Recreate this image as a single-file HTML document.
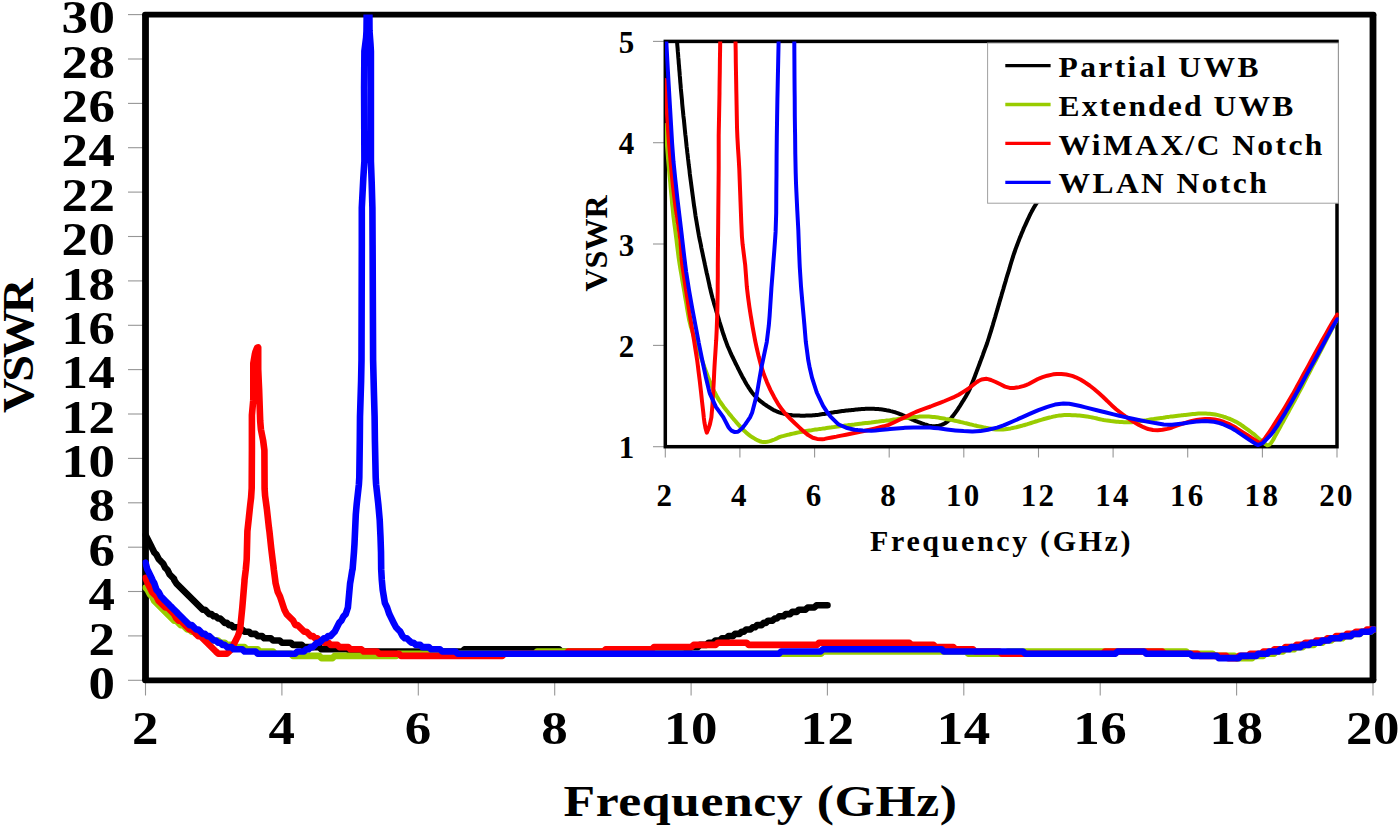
<!DOCTYPE html>
<html><head><meta charset="utf-8"><title>VSWR</title>
<style>html,body{margin:0;padding:0;background:#fff;}svg{display:block;}text{font-family:"Liberation Serif",serif;font-weight:bold;fill:#000;}</style></head><body>
<svg width="1400" height="829" viewBox="0 0 1400 829">
<rect x="0" y="0" width="1400" height="829" fill="#ffffff"/>
<defs><clipPath id="cm"><rect x="142.5" y="14.6" width="1233.5" height="665.7"/></clipPath>
<clipPath id="ci"><rect x="664.9" y="41.4" width="673.8" height="407.3"/></clipPath></defs>
<line x1="128" y1="680.3" x2="143" y2="680.3" stroke="#969696" stroke-width="1.1"/>
<line x1="128" y1="635.9" x2="143" y2="635.9" stroke="#969696" stroke-width="1.1"/>
<line x1="128" y1="591.5" x2="143" y2="591.5" stroke="#969696" stroke-width="1.1"/>
<line x1="128" y1="547.2" x2="143" y2="547.2" stroke="#969696" stroke-width="1.1"/>
<line x1="128" y1="502.8" x2="143" y2="502.8" stroke="#969696" stroke-width="1.1"/>
<line x1="128" y1="458.4" x2="143" y2="458.4" stroke="#969696" stroke-width="1.1"/>
<line x1="128" y1="414.0" x2="143" y2="414.0" stroke="#969696" stroke-width="1.1"/>
<line x1="128" y1="369.6" x2="143" y2="369.6" stroke="#969696" stroke-width="1.1"/>
<line x1="128" y1="325.3" x2="143" y2="325.3" stroke="#969696" stroke-width="1.1"/>
<line x1="128" y1="280.9" x2="143" y2="280.9" stroke="#969696" stroke-width="1.1"/>
<line x1="128" y1="236.5" x2="143" y2="236.5" stroke="#969696" stroke-width="1.1"/>
<line x1="128" y1="192.1" x2="143" y2="192.1" stroke="#969696" stroke-width="1.1"/>
<line x1="128" y1="147.7" x2="143" y2="147.7" stroke="#969696" stroke-width="1.1"/>
<line x1="128" y1="103.4" x2="143" y2="103.4" stroke="#969696" stroke-width="1.1"/>
<line x1="128" y1="59.0" x2="143" y2="59.0" stroke="#969696" stroke-width="1.1"/>
<line x1="128" y1="14.6" x2="143" y2="14.6" stroke="#969696" stroke-width="1.1"/>
<line x1="145.5" y1="682" x2="145.5" y2="695.5" stroke="#969696" stroke-width="1.1"/>
<line x1="281.9" y1="682" x2="281.9" y2="695.5" stroke="#969696" stroke-width="1.1"/>
<line x1="418.3" y1="682" x2="418.3" y2="695.5" stroke="#969696" stroke-width="1.1"/>
<line x1="554.7" y1="682" x2="554.7" y2="695.5" stroke="#969696" stroke-width="1.1"/>
<line x1="691.1" y1="682" x2="691.1" y2="695.5" stroke="#969696" stroke-width="1.1"/>
<line x1="827.4" y1="682" x2="827.4" y2="695.5" stroke="#969696" stroke-width="1.1"/>
<line x1="963.8" y1="682" x2="963.8" y2="695.5" stroke="#969696" stroke-width="1.1"/>
<line x1="1100.2" y1="682" x2="1100.2" y2="695.5" stroke="#969696" stroke-width="1.1"/>
<line x1="1236.6" y1="682" x2="1236.6" y2="695.5" stroke="#969696" stroke-width="1.1"/>
<line x1="1373.0" y1="682" x2="1373.0" y2="695.5" stroke="#969696" stroke-width="1.1"/>
<g stroke="#000">
<line x1="145.0" y1="14.6" x2="1373.5" y2="14.6" stroke-width="5.7" stroke-linecap="round"/>
<line x1="145.0" y1="680.3" x2="1373.5" y2="680.3" stroke-width="5.7" stroke-linecap="round"/>
<line x1="145.5" y1="14.6" x2="145.5" y2="680.3" stroke-width="6.8"/>
<line x1="1373.0" y1="14.6" x2="1373.0" y2="680.3" stroke-width="6.8"/>
</g>
<g clip-path="url(#cm)" fill="none" stroke-linejoin="round" stroke-linecap="round" stroke-width="6.6">
<polyline stroke="#000000" points="145.5,535 147.7,539.3 152.1,548.1 152.3,548.3 154.3,552.5 156.5,554.7 158.7,559.1 159.1,559.4 160.9,561.3 163.1,563.5 165.3,567.9 166.9,569.4 167.5,570.1 169.7,574.5 174.1,578.9 174.2,580 176.3,583.3 202.7,609.7 204.9,609.7 209.3,614.1 211.5,614.1 213.7,616.3 215.9,616.3 218.1,618.5 220.3,618.5 224.7,622.9 226.9,622.9 229.1,625.1 231.3,625.1 233.5,627.3 237.9,627.3 240.1,629.5 242.3,629.5 244.5,631.7 248.9,631.7 251.1,633.9 255.5,633.9 257.7,636.1 262.1,636.1 264.3,638.3 270.9,638.3 273.1,640.5 279.7,640.5 281.9,642.7 290.7,642.7 292.9,644.9 301.7,644.9 303.9,647.1 319.3,647.1 321.5,649.3 347.9,649.3 350.1,651.5 462.3,651.5 464.5,649.3 559.1,649.3 561.3,651.5 605.3,651.5 607.5,653.7 660.3,653.7 662.5,651.5 675.7,651.5 677.9,649.3 688.9,649.3 691.1,647.1 697.7,647.1 699.9,644.9 706.5,644.9 708.7,642.7 713.1,642.7 715.3,640.5 719.7,640.5 721.9,638.3 726.3,638.3 728.5,636.1 732.9,636.1 735.1,633.9 739.5,633.9 741.7,631.7 743.9,631.7 746.1,629.5 750.5,629.5 752.7,627.3 754.9,627.3 757.1,625.1 761.5,625.1 763.7,622.9 765.9,622.9 768.1,620.7 772.5,620.7 774.7,618.5 776.9,618.5 779.1,616.3 783.5,616.3 785.7,614.1 790.1,614.1 792.3,611.9 796.7,611.9 798.9,609.7 805.5,609.7 807.7,607.5 814.3,607.5 816.5,605.3 827.5,605.3"/>
<polyline stroke="#99cc00" points="145.5,587.7 147.7,589.9 149.9,594.3 152.1,596.5 154.3,600.9 174.1,620.7 176.3,620.7 180.7,625.1 182.9,625.1 187.3,629.5 189.5,629.5 191.7,631.7 193.9,631.7 196.1,633.9 200.5,633.9 202.7,636.1 204.9,636.1 207.1,638.3 211.5,638.3 213.7,640.5 218.1,640.5 220.3,642.7 224.7,642.7 226.9,644.9 233.5,644.9 235.7,647.1 244.5,647.1 246.7,649.3 257.7,649.3 259.9,651.5 273.1,651.5 275.3,653.7 290.7,653.7 292.9,655.9 319.3,655.9 321.5,658.1 332.5,658.1 334.7,655.9 396.3,655.9 398.5,653.7 535,653.7 537.1,651.5 680.2,651.5 682.4,653.7 821,653.7 823.2,651.5 966.1,651.5 968.3,653.7 1005.7,653.7 1008,651.5 1186.1,651.5 1188.4,653.7 1212.5,653.7 1214.7,655.9 1234.5,655.9 1236.7,658.1 1252.1,658.1 1254.3,655.9 1263.1,655.9 1265.3,653.7 1274.1,653.7 1276.3,651.5 1282.9,651.5 1285.1,649.3 1293.9,649.3 1296.1,647.1 1302.7,647.1 1304.9,644.9 1313.8,644.9 1315.9,642.7 1322.5,642.7 1324.7,640.5 1331.3,640.5 1333.5,638.3 1342.3,638.3 1344.5,636.1 1351.1,636.1 1353.3,633.9 1359.9,633.9 1362.1,631.7 1370.9,631.7 1373.2,629.5 1373.5,629.5"/>
<polyline stroke="#ff0000" points="145.5,577.8 147.7,583.3 152.1,592.1 156.5,596.5 158.7,600.9 165.3,607.5 167.5,607.5 174.1,614.1 176.4,618.5 178.6,620.7 180.7,620.7 189.5,629.5 191.7,629.5 194,631.7 196.1,633.9 198.3,636.1 200.5,636.1 215.9,651.5 218.2,653.7 226.9,653.7 231.3,649.3 237.9,636.1 240.1,629.5 242.3,607.5 244.5,581.1 244.5,580 245.8,569.4 246.6,560.5 246.7,559.1 247.4,531.2 248.9,517.3 250.2,505 251.1,497.5 251.7,488.1 251.9,450.2 251.9,415.1 253.2,400.7 253.3,398.3 253.3,363.2 254.8,354.5 255.4,351.9 257,347.9 258.2,347.4 258.2,369.2 258.7,380.9 259.1,389.2 260.2,421.1 260.9,429.3 263.1,440.3 264.4,450.2 264.6,488.7 265.1,495.9 266.8,508.5 269,528.3 269.4,531.2 271.2,548.1 272.7,560.5 273.4,565.7 273.8,569.4 275.2,580 275.6,583.3 277.8,592.1 280,596.5 284.4,609.7 286.6,614.1 293.2,620.7 295.4,625.1 297.6,625.1 304.2,631.7 306.4,631.7 310.8,636.1 313,636.1 315.2,638.3 317.4,638.3 319.6,640.5 321.8,640.5 324,642.7 328.4,642.7 330.6,644.9 337.3,644.9 339.5,647.1 348.3,647.1 350.5,649.3 361.4,649.3 363.7,651.5 376.9,651.5 379.1,653.7 398.8,653.7 401,655.9 502.3,655.9 504.5,653.7 566.1,653.7 568.2,651.5 603.5,651.5 605.7,649.3 651.8,649.3 654,647.1 691.4,647.1 693.7,644.9 715.6,644.9 717.9,642.7 746.5,642.7 748.7,644.9 816.9,644.9 819,642.7 909.3,642.7 911.4,644.9 933.5,644.9 935.7,647.1 953.3,647.1 955.4,649.3 973,649.3 975.2,651.5 999.4,651.5 1001.7,653.7 1102.8,653.7 1105,651.5 1162.2,651.5 1164.4,653.7 1197.4,653.7 1199.7,655.9 1226.1,655.9 1228.2,658.1 1237,658.1 1239.2,655.9 1248.1,655.9 1250.2,653.7 1261.3,653.7 1263.4,651.5 1272.2,651.5 1274.4,649.3 1283.3,649.3 1285.4,647.1 1294.2,647.1 1296.5,644.9 1303,644.9 1305.3,642.7 1314.1,642.7 1316.2,640.5 1325,640.5 1327.3,638.3 1333.8,638.3 1336,636.1 1344.8,636.1 1347,633.9 1353.6,633.9 1355.9,631.7 1364.7,631.7 1366.9,629.5 1373.5,629.5"/>
<polyline stroke="#0000ff" points="145.5,562.7 147.3,569.4 147.7,570.1 152.1,578.9 152.3,580 154.3,583.3 156.5,589.9 158.7,592.1 161,596.5 163.2,598.7 165.3,600.9 167.6,603.1 169.7,605.3 172,607.5 174.1,609.7 176.4,611.9 178.5,614.1 180.8,616.3 183,618.5 185.1,620.7 187.4,622.9 189.6,625.1 191.8,625.1 196.2,629.5 198.3,629.5 200.6,631.7 202.7,633.9 204.9,633.9 207.2,636.1 209.3,636.1 211.6,638.3 213.8,640.5 215.9,640.5 218.1,642.7 220.4,642.7 222.5,644.9 224.7,644.9 227.1,647.1 231.5,647.1 233.7,649.3 242.3,649.3 244.6,651.5 255.6,651.5 257.7,653.7 295.2,653.7 297.4,651.5 304,651.5 306.2,649.3 308.4,649.3 310.6,647.1 312.7,647.1 317.1,642.7 319.3,642.7 321.6,640.5 323.8,638.3 326,638.3 328.1,636.1 330.4,636.1 332.5,633.9 334.7,631.7 339.1,622.9 341.3,620.7 343.5,616.3 345.7,614.1 347.9,607.5 350.1,583.3 350.7,580 352.3,570.1 352.6,569.3 354,551.8 354.5,543.7 355.8,514.5 356.7,504.1 358.9,484.3 359.3,477.5 359.8,440.2 360,416.9 361.1,380.9 361.5,360.1 361.8,245.4 361.8,207.6 363.3,178.5 364.4,161.1 364.1,88.3 364.4,51.2 366.1,37.7 366.5,31.1 366.7,14.6 367.3,-12 368,-29.8 368.3,-26.1 368.8,-12 369.4,14.6 369.5,31.1 370.5,44.3 370.9,51.2 370.9,161 371.7,182.9 372.4,207.7 372.6,245.4 373.1,360.1 373.9,391.9 374.6,416.9 374.9,440.2 375.7,477.5 376.1,484.3 378.3,504.1 379.7,519.9 380.5,537.1 381,551.8 381.2,569.4 381.8,580 382.7,589.9 384.9,603.1 387.1,607.5 389.3,614.1 393.7,622.9 396,627.3 398.1,629.5 400.3,631.7 402.5,636.1 404.8,638.3 406.9,638.3 409.1,640.5 411.4,642.7 413.5,642.7 415.8,644.9 420.2,644.9 422.4,647.1 428.9,647.1 431.1,649.3 440,649.3 442.2,651.5 455.4,651.5 457.7,653.7 779,653.7 781.2,651.5 820.6,651.5 822.8,649.3 941.7,649.3 943.9,651.5 1022.9,651.5 1025.2,653.7 1115.4,653.7 1117.6,651.5 1144,651.5 1146.2,653.7 1190.1,653.7 1192.6,655.9 1216.6,655.9 1218.8,658.1 1238.6,658.1 1240.8,655.9 1256.2,655.9 1258.4,653.7 1267.2,653.7 1269.3,651.5 1278.1,651.5 1280.4,649.3 1289.1,649.3 1291.4,647.1 1300.3,647.1 1302.5,644.9 1309,644.9 1311.3,642.7 1320,642.7 1322.3,640.5 1328.8,640.5 1331,638.3 1339.8,638.3 1342,636.1 1350.7,636.1 1353,633.9 1359.7,633.9 1361.9,631.7 1370.6,631.7 1372.8,629.5 1373.5,629.5"/>
</g>
<text transform="translate(115.5,698.9) scale(1.150,1)" text-anchor="end" font-size="46.0" letter-spacing="0.50">0</text>
<text transform="translate(115.5,654.5) scale(1.150,1)" text-anchor="end" font-size="46.0" letter-spacing="0.50">2</text>
<text transform="translate(115.5,610.1) scale(1.150,1)" text-anchor="end" font-size="46.0" letter-spacing="0.50">4</text>
<text transform="translate(115.5,565.8) scale(1.150,1)" text-anchor="end" font-size="46.0" letter-spacing="0.50">6</text>
<text transform="translate(115.5,521.4) scale(1.150,1)" text-anchor="end" font-size="46.0" letter-spacing="0.50">8</text>
<text transform="translate(115.5,477.0) scale(1.150,1)" text-anchor="end" font-size="46.0" letter-spacing="0.50">10</text>
<text transform="translate(115.5,432.6) scale(1.150,1)" text-anchor="end" font-size="46.0" letter-spacing="0.50">12</text>
<text transform="translate(115.5,388.2) scale(1.150,1)" text-anchor="end" font-size="46.0" letter-spacing="0.50">14</text>
<text transform="translate(115.5,343.9) scale(1.150,1)" text-anchor="end" font-size="46.0" letter-spacing="0.50">16</text>
<text transform="translate(115.5,299.5) scale(1.150,1)" text-anchor="end" font-size="46.0" letter-spacing="0.50">18</text>
<text transform="translate(115.5,255.1) scale(1.150,1)" text-anchor="end" font-size="46.0" letter-spacing="0.50">20</text>
<text transform="translate(115.5,210.7) scale(1.150,1)" text-anchor="end" font-size="46.0" letter-spacing="0.50">22</text>
<text transform="translate(115.5,166.3) scale(1.150,1)" text-anchor="end" font-size="46.0" letter-spacing="0.50">24</text>
<text transform="translate(115.5,122.0) scale(1.150,1)" text-anchor="end" font-size="46.0" letter-spacing="0.50">26</text>
<text transform="translate(115.5,77.6) scale(1.150,1)" text-anchor="end" font-size="46.0" letter-spacing="0.50">28</text>
<text transform="translate(115.5,33.2) scale(1.150,1)" text-anchor="end" font-size="46.0" letter-spacing="0.50">30</text>
<text transform="translate(145.5,744.3) scale(1.150,1)" text-anchor="middle" font-size="46.0" letter-spacing="0.50">2</text>
<text transform="translate(281.9,744.3) scale(1.150,1)" text-anchor="middle" font-size="46.0" letter-spacing="0.50">4</text>
<text transform="translate(418.3,744.3) scale(1.150,1)" text-anchor="middle" font-size="46.0" letter-spacing="0.50">6</text>
<text transform="translate(554.7,744.3) scale(1.150,1)" text-anchor="middle" font-size="46.0" letter-spacing="0.50">8</text>
<text transform="translate(691.1,744.3) scale(1.150,1)" text-anchor="middle" font-size="46.0" letter-spacing="0.50">10</text>
<text transform="translate(827.4,744.3) scale(1.150,1)" text-anchor="middle" font-size="46.0" letter-spacing="0.50">12</text>
<text transform="translate(963.8,744.3) scale(1.150,1)" text-anchor="middle" font-size="46.0" letter-spacing="0.50">14</text>
<text transform="translate(1100.2,744.3) scale(1.150,1)" text-anchor="middle" font-size="46.0" letter-spacing="0.50">16</text>
<text transform="translate(1236.6,744.3) scale(1.150,1)" text-anchor="middle" font-size="46.0" letter-spacing="0.50">18</text>
<text transform="translate(1373.0,744.3) scale(1.150,1)" text-anchor="middle" font-size="46.0" letter-spacing="0.50">20</text>
<text transform="translate(760.5,816.0) scale(1.175,1)" text-anchor="middle" font-size="44.0" letter-spacing="0.50">Frequency (GHz)</text>
<text transform="translate(33.0,347.5) rotate(-90) scale(1.080,1)" text-anchor="middle" font-size="44.5" letter-spacing="-3.00">VSWR</text>
<rect x="665.3" y="41.4" width="671.7" height="405.3" fill="#fff"/>
<line x1="653" y1="446.7" x2="664" y2="446.7" stroke="#969696" stroke-width="1.1"/>
<line x1="653" y1="345.4" x2="664" y2="345.4" stroke="#969696" stroke-width="1.1"/>
<line x1="653" y1="244.0" x2="664" y2="244.0" stroke="#969696" stroke-width="1.1"/>
<line x1="653" y1="142.7" x2="664" y2="142.7" stroke="#969696" stroke-width="1.1"/>
<line x1="653" y1="41.4" x2="664" y2="41.4" stroke="#969696" stroke-width="1.1"/>
<line x1="665.3" y1="448" x2="665.3" y2="457.5" stroke="#969696" stroke-width="1.1"/>
<line x1="739.9" y1="448" x2="739.9" y2="457.5" stroke="#969696" stroke-width="1.1"/>
<line x1="814.6" y1="448" x2="814.6" y2="457.5" stroke="#969696" stroke-width="1.1"/>
<line x1="889.2" y1="448" x2="889.2" y2="457.5" stroke="#969696" stroke-width="1.1"/>
<line x1="963.8" y1="448" x2="963.8" y2="457.5" stroke="#969696" stroke-width="1.1"/>
<line x1="1038.5" y1="448" x2="1038.5" y2="457.5" stroke="#969696" stroke-width="1.1"/>
<line x1="1113.1" y1="448" x2="1113.1" y2="457.5" stroke="#969696" stroke-width="1.1"/>
<line x1="1187.7" y1="448" x2="1187.7" y2="457.5" stroke="#969696" stroke-width="1.1"/>
<line x1="1262.4" y1="448" x2="1262.4" y2="457.5" stroke="#969696" stroke-width="1.1"/>
<line x1="1337.0" y1="448" x2="1337.0" y2="457.5" stroke="#969696" stroke-width="1.1"/>
<rect x="665.3" y="41.4" width="671.7" height="405.3" fill="none" stroke="#000" stroke-width="3.5"/>
<g clip-path="url(#ci)" fill="none" stroke-linejoin="round" stroke-linecap="round" stroke-width="4.0">
<polyline stroke="#000000" points="665.3,-115.7 665.5,-112.5 665.6,-109.4 665.8,-106.3 666,-103.2 666.2,-100.1 666.4,-97 666.6,-93.9 666.7,-90.8 666.9,-87.7 667.1,-84.6 667.3,-81.5 667.5,-78.4 667.7,-75.2 667.9,-72.1 668.1,-69 668.3,-65.9 668.5,-62.8 668.7,-59.7 668.9,-56.6 669,-54.9 669.1,-53.5 669.3,-50.4 669.5,-47.3 669.7,-44.2 670,-41.1 670.2,-38 670.4,-34.9 670.6,-31.8 670.8,-28.7 671.1,-25.7 671.3,-22.6 671.5,-19.5 671.8,-16.4 672,-13.3 672.3,-10.2 672.5,-7.1 672.8,-4.2 673,-1 673.3,2.1 673.6,5.2 673.9,8.3 674.2,11.3 674.5,14.4 674.8,17.5 675,20.5 675.3,23.6 675.6,26.6 675.9,29.7 676.2,32.8 676.5,35.9 676.8,38.9 677,41.4 677.1,42 677.3,45.1 677.6,48.2 677.8,51.2 678.1,54.3 678.3,57.4 678.6,60.5 678.8,63.6 679.1,66.7 679.3,69.8 679.6,72.8 679.8,75.9 680.1,79 680.3,82.1 680.6,85.2 680.8,88.2 681,90 681.1,91.3 681.4,94.4 681.7,97.5 682,100.5 682.2,103.6 682.5,106.7 682.8,109.7 683.1,112.8 683.4,115.9 683.8,118.9 684.1,122 684.4,125 684.7,128.1 685,131.1 685.3,134.2 685.7,137.2 686,140.3 686.1,141.4 686.3,143.3 686.6,146.4 687,149.4 687.3,152.5 687.7,155.5 688,158.5 688.4,161.6 688.7,164.6 689.1,167.6 689.5,170.6 689.8,173.7 690.2,176.7 690.6,179.7 691,182.7 691.4,185.7 691.8,188.7 692.2,191.7 692.6,194.7 693,197.7 693.4,200.7 693.8,203.7 694.2,206.7 694.7,209.7 695.1,212.7 695.5,215.6 696,218.6 696.5,221.5 697,224.5 697.5,227.4 698,230.3 698.5,233.2 699,236.1 699.6,239 699.8,240 700.2,241.9 700.8,244.7 701.3,247.6 701.9,250.4 702.5,253.2 703.1,256.1 703.7,258.9 704.3,261.7 704.9,264.5 705.1,265.3 705.5,267.3 706.1,270.2 706.7,273 707.4,275.8 708,278.6 708.6,281.4 709.2,284.2 709.8,287 710.5,289.8 710.7,290.7 711.1,292.6 711.8,295.3 712.5,298 713.3,300.6 714,303.3 714.8,305.9 715.6,308.5 716.3,311.1 717.1,313.7 717.8,316 718.7,318.9 719.4,321.5 720.2,324.1 721,326.7 721.8,329.2 722.6,331.8 723.4,334.3 724.3,336.8 725.1,339.3 725.9,341.4 726.9,344.1 727.8,346.5 728.8,348.7 729.8,351 730.7,353.2 731.7,355.3 732.8,357.5 733.8,359.6 734.8,361.7 735.8,363.8 736.9,365.9 737.3,366.7 737.9,368 739,370.1 740,372.1 741.1,374.2 742.1,376.2 743.2,378.2 744.3,380.1 745.3,382.1 746.4,384 747.6,385.8 748.7,387.6 749.9,389.4 751,391.1 751.7,392 752.2,392.7 753.5,394.3 754.7,395.7 756,397.1 757.2,398.3 758.5,399.5 759.8,400.6 761.1,401.7 762.4,402.7 763.7,403.7 765.1,404.6 766.4,405.5 767.7,406.4 769.1,407.3 770.4,408.1 771.8,408.9 773.1,409.7 774.4,410.4 775.8,411 777.2,411.6 778.5,412.1 779.1,412.3 779.9,412.6 781.3,413 782.7,413.4 784,413.7 785.4,414.1 786.8,414.4 788.2,414.7 789.6,414.9 791,415.1 792.3,415.3 793.7,415.4 795.1,415.5 796.5,415.6 797.9,415.6 799.3,415.6 800.6,415.7 802,415.7 803.4,415.7 804.8,415.7 806.2,415.6 807.6,415.6 809,415.6 810.3,415.5 811.7,415.4 813.1,415.3 814.5,415.2 815.9,415 817.1,414.9 818.7,414.7 820,414.5 821.4,414.3 822.8,414.1 824.2,413.9 825.6,413.7 827,413.4 828.3,413.2 829.7,413 831.1,412.8 832.5,412.6 833.9,412.3 835.2,412.1 836.6,411.9 838,411.7 839.4,411.5 840.8,411.3 842.2,411.1 843.5,411 844.9,410.8 846.3,410.6 847.7,410.5 849.1,410.3 850.5,410.2 851.9,410 853.2,409.9 854.6,409.7 856,409.6 857.4,409.5 858.8,409.3 860.2,409.2 861.5,409.1 862.7,409 864.3,408.9 865.7,408.8 867.1,408.8 868.5,408.7 869.9,408.7 871.2,408.7 872.6,408.8 874,408.8 875.4,408.9 876.8,409 878.2,409.1 879.6,409.2 880.5,409.3 882.3,409.5 883.7,409.7 885.1,409.9 886.5,410.2 887.9,410.4 889.2,410.7 890.6,411.1 892,411.4 893.4,411.8 894.8,412.2 896.1,412.7 897.5,413.1 898.9,413.6 900.2,414.2 901.6,414.7 903,415.3 904.3,415.9 905.7,416.5 907,417.2 908.4,417.8 909.8,418.4 911.1,419 912.5,419.7 913.8,420.2 914.7,420.6 915.2,420.8 916.6,421.3 917.9,421.9 919.3,422.4 920.7,422.9 922,423.4 923.4,423.8 924.8,424.3 926.1,424.7 927.5,425.2 928.2,425.4 928.9,425.6 930.3,425.9 931.7,426.1 933,426.2 934.4,426.2 935.8,426.1 937.2,425.9 938.6,425.7 939.8,425.4 941.4,424.9 942.7,424.4 944.1,423.7 945.4,423 946.7,422.1 948.1,421 949.4,419.8 950.7,418.5 951.4,417.7 951.9,417.1 953.2,415.6 954.4,414 955.6,412.4 956.7,410.8 957.9,409.1 959,407.3 960.2,405.6 961,404.2 961.3,403.7 962.4,401.9 963.6,400.1 964.7,398.3 965.8,396.4 966.9,394.5 968,392.5 969,390.5 970.1,388.3 970.7,386.8 971,386 971.9,383.7 972.9,381.4 973.8,379 974.7,376.7 975.6,374.3 976.5,371.9 977.4,369.5 978.3,367.1 979.2,364.7 980.1,362.3 980.3,361.7 981,359.9 981.9,357.5 982.8,355.1 983.6,352.7 984.5,350.3 985.4,347.9 986.3,345.5 987.2,343 988,340.5 988.8,338 989.6,335.4 990.4,332.9 991.2,330.3 992,327.7 992.8,325.1 993.5,322.5 994.3,319.9 994.8,318.2 995.1,317.3 995.8,314.7 996.6,312 997.4,309.4 998.1,306.8 998.9,304.2 999.6,301.6 1000.4,298.9 1001.2,296.3 1001.9,293.7 1002.7,291.1 1003.5,288.5 1003.8,287.3 1004.2,285.9 1005,283.2 1005.8,280.6 1006.5,278 1007.3,275.4 1008.1,272.9 1008.9,270.3 1009.7,267.7 1010.4,265.1 1011.2,262.5 1012,259.9 1012.8,257.4 1013.1,256.5 1013.6,254.8 1014.5,252.3 1015.3,249.8 1016.2,247.4 1017.1,245 1018,242.6 1018.9,240.3 1019.8,237.9 1020.8,235.6 1021.7,233.3 1022.3,231.9 1022.7,231 1023.6,228.7 1024.6,226.5 1025.6,224.3 1026.6,222.1 1027.6,219.9 1028.6,217.8 1029.6,215.7 1030.6,213.6 1031.5,211.9 1031.7,211.5 1032.8,209.5 1033.8,207.6 1035,205.7 1036.1,203.9 1037.3,202.3 1038.5,200.8"/>
<polyline stroke="#99cc00" points="665.3,125 665.6,129.2 666,133.3 666.3,137.5 666.6,141.6 667,145.8 667.3,149.9 667.5,152 667.7,154 668,158.2 668.4,162.3 668.8,166.5 669.1,170.6 669.5,174.7 669.9,178.9 670,180 670.3,183 670.6,187.1 671,191.3 671.4,195.4 671.8,199.5 672.1,203.7 672.6,207.8 673,211.9 673.4,216 673.9,220 674.4,224.1 675,228.2 675.5,232.2 676,236.2 676.5,240 677,244.4 677.5,248.4 678,252.5 678.5,256.6 679.1,260.6 679.7,264.6 679.8,265.3 680.3,268.5 681,272.5 681.7,276.4 682.3,280.4 683,284.3 683.7,288.2 684.1,290.7 684.4,292.2 685,296.1 685.7,300.1 686.4,304 687,307.9 687.7,311.9 688.4,315.8 689.1,319.7 690,323.4 690.9,327 692,330.5 693.1,334 694.2,337.4 695.3,340.8 695.5,341.4 696.4,344.2 697.6,347.6 698.7,350.9 699.8,354.2 701,357.5 702.2,360.8 703.4,364.1 704.3,366.7 704.5,367.4 705.7,370.6 706.9,373.9 708.1,377.1 709.3,380.2 710.6,383.3 711.9,386.4 713.2,389.3 714.5,392 716.1,395 717.5,397.6 719,400.1 720.6,402.5 722.2,404.7 723.7,406.9 725.4,409 727,411.1 728.6,413.1 730.3,415.1 731.9,417.1 732.2,417.4 733.6,419.1 735.3,421 736.9,422.9 738.6,424.8 740.3,426.7 741.9,428.4 743.6,430.2 745.4,431.8 746.2,432.6 747.1,433.4 748.9,434.8 750.6,436.1 752.4,437.3 754.2,438.4 755,438.9 756,439.5 757.9,440.4 759.7,441.2 761.6,441.7 763.4,442 765.3,442 767.1,441.8 769,441.4 770.8,440.9 772.7,440.2 774.5,439.5 776.4,438.6 778.2,437.7 780,436.9 781.6,436.4 783.7,435.9 785.6,435.4 787.4,434.9 789.3,434.5 791.1,434 793,433.6 794.8,433.2 796.7,432.8 798.6,432.4 800.4,432 802.3,431.7 804.1,431.4 806,431 807.9,430.7 809.7,430.4 811.6,430.2 813.4,429.9 815.3,429.6 817.2,429.4 819,429.1 820.9,428.9 822.7,428.6 824.6,428.4 826.5,428.1 828.3,427.8 830.2,427.6 832,427.3 833.9,427.1 835.8,426.8 837.6,426.6 839.5,426.3 841.4,426.1 843.2,425.9 845.1,425.6 846.9,425.4 848.8,425.1 850,425 850.7,424.9 852.5,424.7 854.4,424.5 856.3,424.2 858.1,424 860,423.8 861.8,423.6 863.7,423.3 865.6,423.1 867.4,422.9 869.3,422.7 871.1,422.5 873,422.2 874.9,422 876.7,421.8 878.6,421.6 880.5,421.3 882.3,421.1 884.2,420.9 886,420.6 887.9,420.4 889.8,420.2 891.6,419.9 893.5,419.6 895.4,419.4 897.2,419.1 899.1,418.8 900,418.7 900.9,418.6 902.8,418.3 904.7,418.1 906.5,417.9 908.4,417.7 910.2,417.5 912.1,417.3 914,417.1 915.8,416.9 917.7,416.8 918.6,416.7 919.6,416.6 921.4,416.5 923.3,416.5 925.2,416.5 927,416.5 928.9,416.6 930.8,416.7 932.6,416.9 934.5,417.1 936,417.3 938.2,417.6 940.1,417.9 941.9,418.2 943.8,418.5 945.6,418.9 947.5,419.2 949.4,419.5 951.2,419.9 953.1,420.3 954.9,420.7 956.8,421.1 958.6,421.5 960.5,422 962.4,422.4 964.2,422.9 966.1,423.3 967.9,423.7 969.8,424.2 971.6,424.6 973.5,425.1 975.3,425.5 976.5,425.8 977.2,426 979,426.4 980.9,426.8 982.8,427.2 984.6,427.6 986.5,427.9 988.3,428.3 990.2,428.6 991.9,428.9 993.9,429.2 995.8,429.4 997.6,429.5 999.5,429.5 1001.4,429.5 1003.2,429.4 1005.1,429.3 1007,429 1008.8,428.7 1010.7,428.4 1012.6,428 1014.4,427.6 1016.3,427.2 1018.1,426.7 1020,426.2 1021.8,425.8 1023.7,425.2 1025.5,424.7 1026.6,424.4 1027.4,424.2 1029.2,423.6 1031.1,423 1032.9,422.4 1034.8,421.8 1036.6,421.3 1038.5,420.7 1040.3,420.1 1042,419.6 1044,419 1045.9,418.5 1047.7,418 1049.6,417.5 1051.4,417.1 1053.3,416.6 1055.1,416.3 1057,415.9 1058.8,415.6 1060.7,415.4 1062.6,415.2 1064.4,415.1 1066.3,415 1068.2,415 1070,415.1 1071.9,415.2 1072.9,415.2 1073.8,415.2 1075.6,415.3 1077.5,415.5 1079.4,415.6 1081.2,415.8 1083.1,416 1084.9,416.2 1086.8,416.4 1088.4,416.7 1090.5,417.1 1092.4,417.5 1094.2,417.9 1096.1,418.3 1097.9,418.8 1099.8,419.2 1101.7,419.6 1103.5,420 1105.4,420.3 1107.2,420.5 1109.1,420.8 1111,421.1 1112.8,421.3 1114.7,421.5 1116.5,421.7 1118.4,421.8 1119.3,421.9 1120.3,422 1122.1,422.1 1124,422.2 1125.9,422.3 1127.7,422.3 1129.6,422.3 1131.5,422.2 1133.3,422.1 1134.7,421.9 1137.1,421.6 1138.9,421.3 1140.8,421 1142.6,420.7 1144.5,420.4 1146.4,420.2 1148.2,419.9 1150.1,419.6 1151.9,419.3 1153.8,419.1 1155.7,418.8 1157.5,418.5 1159.4,418.2 1161.2,417.9 1163.1,417.7 1165,417.4 1165.6,417.3 1166.8,417.1 1168.7,416.9 1170.5,416.6 1172.4,416.4 1174.3,416.2 1176.1,416 1178,415.8 1179.9,415.6 1181.7,415.3 1183,415.2 1183.6,415.1 1185.4,414.9 1187.3,414.7 1189.2,414.5 1191,414.3 1192.9,414.1 1194.8,414 1196.5,413.8 1198.5,413.6 1200.4,413.6 1202.2,413.5 1204.1,413.5 1205.9,413.6 1207.8,413.7 1209.7,413.8 1211.5,413.9 1213.4,414.2 1215.3,414.5 1217.1,414.9 1219,415.4 1220.8,415.9 1222.7,416.4 1223.5,416.7 1224.5,417 1226.4,417.7 1228.2,418.3 1230.1,419 1231.9,419.8 1233.7,420.7 1235.5,421.6 1237.3,422.6 1238.9,423.5 1241,424.8 1242.7,426 1244.5,427.3 1246.3,428.6 1248.1,429.9 1249.8,431.2 1251.6,432.5 1252.4,433.1 1253.4,433.8 1255.1,435.3 1256.9,436.9 1258.6,438.5 1260.4,440.1 1262.1,441.6 1263.9,443 1265.6,444.3 1266.9,445.1 1267.4,445.3 1269.2,444.9 1271,443.1 1272.7,440.5 1273.6,438.9 1274.2,437.9 1275.6,435.2 1277.1,432.6 1278.5,429.9 1280,427.3 1281.4,424.6 1282.9,422 1284.3,419.3 1285.2,417.7 1285.8,416.7 1287.2,414 1288.7,411.4 1290.1,408.7 1291.6,406.1 1293,403.4 1294.5,400.8 1295.9,398.1 1296.8,396.5 1297.4,395.4 1298.8,392.7 1300.2,390 1301.7,387.3 1303.1,384.5 1304.5,381.8 1305.9,379.1 1307.3,376.3 1308.4,374.3 1308.8,373.6 1310.2,370.9 1311.6,368.2 1313,365.4 1314.5,362.7 1315.9,360 1317.3,357.3 1318.7,354.5 1320,352.1 1321.6,349.1 1323,346.3 1324.4,343.6 1325.8,340.9 1327.2,338.1 1328.7,335.4 1330.1,332.6 1331.5,329.9 1332.9,327.2 1334.4,324.5 1335.8,321.9 1337.3,319.3"/>
<polyline stroke="#ff0000" points="665.3,80 665.8,90.7 666.3,101.4 666.9,112.1 667.6,122.8 668.3,133.4 668.9,141.4 669.1,144 670,154.6 670.9,165.2 671.9,175.7 673,186.2 674,195 674.2,196.6 675.5,206.9 677.1,217.1 678.6,227.3 680,237.6 680.3,240 681,248.2 681.6,258.9 682.3,265.3 682.9,269.2 684.4,279.4 685.9,289.6 686.1,290.7 687.5,299.8 689,310 689.9,316 690.6,320.2 692.3,330.2 694,340.2 694.2,341.4 695.6,350.4 697.2,360.5 698,366.7 698.5,370.9 699.8,381.3 701,391.7 702.1,402.1 703.3,412.6 703.8,417.4 704.5,422.9 705.6,428.5 706.8,432.7 708.6,428.5 709.8,424.7 711.4,417.4 711.6,414.9 712.5,404.3 713.1,393.7 713.2,392 713.7,383 714.2,372.3 714.5,366.7 714.8,361.6 715.5,351 716.1,341.4 716.2,340.3 716.7,329.6 717.1,318.9 717.2,316 717.4,308.1 717.6,297.4 717.7,290.7 717.7,286.6 717.8,275.8 717.8,265.1 717.9,254.3 718,243.5 718,240 718.1,232.8 718.2,222 718.3,211.2 718.3,209.6 718.4,200.5 718.5,189.7 718.6,180 718.6,179 718.7,168.2 718.7,157.4 718.7,146.7 718.7,135.9 718.8,130 718.9,125.1 719.1,114.4 719.3,103.6 719.5,92.9 719.5,90 719.6,82.1 719.8,71.3 719.9,60.6 720.1,49.8 720.2,41.4 720.2,39.1 720.4,28.3 720.5,17.5 720.6,6.8 720.6,0.9 720.7,-4 720.7,-14.8 720.8,-25.5 720.8,-36.3 720.8,-47.1 720.8,-57.8 720.8,-68.6 720.8,-79.4 720.8,-90.1 720.8,-100.9 720.9,-111.7 721,-122.4 721.1,-132.9 721.2,-144 721.3,-154.7 721.4,-165.5 721.6,-176.2 721.7,-187 721.9,-197.8 722,-208.5 722.2,-219.3 722.3,-230.1 722.4,-240.8 722.6,-251.6 722.6,-252.4 722.7,-262.3 722.8,-273.1 723,-283.9 723.1,-294.6 723.2,-305.4 723.3,-316.2 723.4,-326.9 723.4,-329.4 723.4,-337.7 723.4,-348.5 723.5,-359.2 723.5,-370 723.5,-380.8 723.5,-391.5 723.5,-402.3 723.5,-413.1 723.5,-423.8 723.5,-434.6 723.5,-445.4 723.5,-456.1 723.5,-466.9 723.5,-477.7 723.5,-488.4 723.5,-499.2 723.5,-502.7 723.5,-509.9 723.5,-520.7 723.5,-531.5 723.5,-542.2 723.5,-553 723.5,-563.8 723.5,-574.5 723.5,-585.3 723.5,-596.1 723.5,-606.8 723.5,-617.6 723.5,-628.4 723.5,-639.1 723.5,-649.9 723.5,-660.7 723.5,-662.8 723.5,-671.4 723.6,-682.2 723.7,-693 723.9,-703.7 724,-714.5 724.2,-725.3 724.3,-736 724.3,-739.8 724.3,-746.8 724.4,-757.6 724.4,-768.3 724.4,-779.1 724.4,-789.9 724.4,-800.6 724.4,-811.4 724.4,-822.2 724.3,-832.9 724.3,-843.7 724.3,-854.5 724.3,-865.2 724.3,-876 724.3,-886.8 724.3,-897.5 724.3,-899.9 724.4,-908.3 724.5,-919 724.8,-929.8 725.1,-940.5 725.4,-951.3 726.3,-967.1 726.9,-971.8 727,-971.2 727,-960.5 727,-949.8 727,-939.1 727,-928.3 727,-917.5 726.9,-906.7 726.9,-895.9 726.9,-885 726.9,-874.3 726.9,-872.6 727,-863.5 727.1,-852.7 727.1,-842 727.2,-831.2 727.3,-820.4 727.3,-809.7 727.4,-798.9 727.4,-788.1 727.5,-781.4 727.5,-777.4 727.5,-766.6 727.6,-755.8 727.6,-745.1 727.7,-734.3 727.7,-723.5 727.8,-712.8 727.8,-702 727.8,-691.2 727.9,-680.5 727.9,-669.7 728,-658.9 728,-648.2 728.1,-637.4 728.1,-635.5 728.1,-626.7 728.3,-615.9 728.4,-605.1 728.6,-594.4 728.8,-583.6 729.1,-572.9 729.3,-562.1 729.6,-551.4 729.8,-540.6 730,-529.8 730.2,-519.1 730.3,-508.3 730.4,-502.7 730.4,-497.6 730.5,-486.8 730.5,-476 730.6,-465.3 730.6,-454.5 730.6,-443.7 730.6,-433 730.5,-422.2 730.5,-411.4 730.5,-400.7 730.4,-389.9 730.4,-379.1 730.4,-368.3 730.4,-357.6 730.4,-346.8 730.4,-336 730.5,-325.3 730.5,-314.5 730.6,-303.8 730.8,-294 730.8,-293 730.9,-282.2 731.1,-271.5 731.2,-260.7 731.4,-250 731.5,-239.2 731.7,-228.4 731.9,-217.7 732,-206.9 732.2,-196.2 732.4,-185.4 732.5,-174.6 732.7,-163.9 732.8,-153.1 733,-142.3 733.1,-132.9 733.1,-131.6 733.3,-120.8 733.4,-110.1 733.6,-99.3 733.7,-88.5 733.8,-77.8 734,-67 734.1,-56.3 734.3,-45.5 734.4,-34.7 734.6,-24 734.7,-13.2 734.8,-2.4 734.9,0.9 735,8.3 735.2,19.1 735.3,29.8 735.5,40.6 735.5,41.4 735.7,51.4 735.8,62.1 736,72.9 736.2,83.6 736.3,90 736.4,94.4 736.6,105.1 736.8,115.9 737,126.7 737.1,130 737.4,137.4 738,148.1 738.7,158.7 739.3,169.4 739.7,180.1 740.1,190.9 740.3,196.3 740.5,201.6 740.9,212.3 741.3,223 741.8,233.8 741.9,236.1 742.6,244.3 743.9,254.7 745,263.5 745.2,265.1 746,275.7 746.8,286.3 747.2,290 748,296.8 749.4,307 750.8,316 751,317.2 752.7,327.3 754.5,337.2 755.4,341.8 756.5,347 758.7,356.6 761.1,365.8 761.4,366.7 763.9,374.6 767.1,382.6 770.5,390.1 771.5,392 774.2,397.2 778,403.8 782,409.6 784.2,412.3 786.2,414.5 790.5,419 794.9,423.3 799.3,427.4 803.7,431.4 808.2,435.1 812.8,437.7 817.1,438.9 822.3,439.2 824.7,438.9 827,438.4 831.8,437.5 836.5,436.6 837.4,436.4 841.3,435.6 846,434.7 850.7,433.7 855.5,432.8 860.2,431.8 862.7,431.3 865,430.8 869.7,429.8 874.4,428.7 879.2,427.5 880,427.3 883.9,426.3 888.6,424.8 891.6,423.5 893.3,422.7 897.9,420.5 902.6,418.3 903.2,418 907.2,416.1 911.9,413.8 914.7,412.5 916.6,411.7 921.2,409.8 925.9,408.1 930.6,406.5 934,405.2 935.3,404.7 940,402.8 944.7,401 949.4,399 953.3,397.4 954.1,397.1 958.7,394.7 963.3,391.9 966.8,389.7 967.9,389 972.4,385.5 976.9,382 978.4,381 981.6,379.5 986.3,378.8 988,379.1 991,380 995.7,382 1000.4,384.3 1005,386.6 1009.7,387.9 1014.5,387.9 1015.1,387.8 1019.2,387.1 1024,385.9 1026.6,384.9 1028.7,384 1033.3,381.5 1037.9,379 1040.1,378.1 1042.6,377.2 1047.3,375.7 1052.1,374.6 1053.6,374.3 1056.8,373.9 1061.4,373.9 1066.3,374.5 1071.1,375.6 1072.9,376.2 1075.8,377.3 1080.4,379.5 1084.5,382 1085,382.4 1089.6,385.5 1094.1,389 1096.1,390.7 1098.5,392.8 1102.9,396.8 1107.3,401 1107.7,401.3 1111.6,405.2 1116.1,409.2 1120.6,412.8 1123.2,414.8 1125.1,416.2 1129.7,419.3 1134.3,422.2 1134.7,422.5 1138.9,424.9 1143.5,427.2 1146.3,428.3 1148.2,429 1153,430 1157.7,430.2 1162.5,429.8 1167.2,428.9 1169.5,428.3 1172,427.5 1176.7,425.7 1181.3,424 1183,423.5 1186.1,422.6 1190.8,421.3 1195.5,420.2 1196.5,420 1200.3,419.4 1205,419.1 1208,419 1209.8,419 1214.5,419.5 1219.3,420.5 1224,422 1228.7,423.9 1233.3,426.2 1235.1,427.3 1237.9,429.1 1242.5,432.1 1247.1,435 1248.6,436 1251.6,438 1256.2,440.9 1259.2,442.8 1260.8,443 1265.2,438 1265.9,437 1269.3,432 1273.2,426 1273.6,425.4 1277.1,419.9 1281,413.8 1284.9,407.6 1285.2,407.1 1288.7,401.1 1292.5,394.6 1296.2,387.9 1296.8,386.8 1299.9,381.1 1303.6,374.3 1307.3,367.6 1308.4,365.6 1311,360.8 1314.7,354 1318.4,347.3 1320,344.4 1322.1,340.5 1325.9,333.9 1329.6,327.3 1331.5,324.1 1333.4,320.8 1337.3,314.5"/>
<polyline stroke="#0000ff" points="665.3,11 665.8,30 666.3,41.4 666.7,48.9 667.7,67.7 668.8,86.6 669,90 669.9,105.4 671,124.2 672,141.4 672.1,143.1 673.5,161.8 675.4,180.3 677,195 677.4,198.8 679.6,217.1 681.8,235.5 682.3,240 683.9,253.8 685.3,265.3 686.2,272.1 689,290 689.1,290.7 692.1,307.6 693.7,316 695.4,325.1 698.5,341.4 698.7,342.6 702.2,359.9 703.6,366.7 705.8,377 709.4,392 709.9,393.7 715.9,406.9 723.1,416.9 723.4,417.4 728.4,427 729.6,428.7 731.5,430.6 734.8,432.1 737.8,431.7 738.6,431.3 742.4,428 745.4,424.1 746.2,423 750,417.4 752.1,412.7 756.4,396.2 757.2,392 759.5,378.5 761.6,366.7 762.8,361 766.4,343.9 766.8,341.8 768.8,325.6 769.6,316 770.2,306.9 771.3,290 771.4,288.1 772.9,269.4 773.3,263.5 774.3,250.7 775.2,238 775.6,231.9 776.2,212.9 776.3,193.9 776.4,183 776.5,174.9 776.6,155.9 776.8,136.9 776.9,130 777.1,117.9 777.4,99 777.6,90 777.8,80 778.2,61 778.6,42 778.6,41.4 778.9,23 779.1,4 779.2,-14.9 779.4,-33.9 779.4,-38.6 779.5,-52.9 779.6,-71.9 779.7,-90.9 779.8,-109.9 779.9,-128.9 780,-147.9 780.1,-166.9 780.2,-185.9 780.4,-204.9 780.4,-208.9 780.5,-223.9 780.7,-242.9 781,-261.9 781.2,-280.9 781.5,-299.9 781.8,-318.8 782,-337.8 782.2,-356.8 782.3,-375.8 782.3,-378.1 782.3,-394.8 782.4,-413.8 782.4,-432.8 782.5,-451.8 782.5,-470.8 782.5,-489.8 782.5,-508.8 782.6,-527.8 782.6,-546.8 782.6,-548.3 782.6,-565.8 782.6,-584.8 782.6,-603.8 782.6,-622.8 782.6,-641.8 782.7,-654.7 782.7,-660.8 782.7,-679.8 782.8,-698.8 782.8,-717.8 782.9,-736.8 783,-755.8 783.1,-774.8 783.2,-793.8 783.2,-812.7 783.3,-831.7 783.4,-850.7 783.4,-869.7 783.5,-888.7 783.5,-907.7 783.5,-914.1 783.5,-926.7 783.5,-945.7 783.5,-964.7 783.6,-983.7 783.6,-1002.7 783.6,-1021.7 783.6,-1040.7 783.6,-1059.7 783.6,-1078.7 783.6,-1097.7 783.6,-1116.7 783.6,-1135.7 783.6,-1154.7 783.6,-1173.7 783.6,-1192.7 783.6,-1211.7 783.6,-1230.7 783.6,-1249.7 783.6,-1268.7 783.6,-1287.7 783.6,-1306.7 783.6,-1325.7 783.7,-1344.7 783.7,-1363.7 783.7,-1382.7 783.7,-1401.7 783.7,-1420.7 783.7,-1437.9 783.7,-1439.7 783.7,-1458.6 783.7,-1477.6 783.7,-1496.6 783.7,-1515.6 783.7,-1534.6 783.7,-1553.6 783.7,-1572.6 783.7,-1591.6 783.7,-1610.2 783.7,-1629.6 783.8,-1648.6 783.9,-1667.6 784,-1686.6 784.2,-1705.6 784.3,-1724.6 784.5,-1743.6 784.7,-1762.6 784.8,-1781.6 785,-1800.6 785.1,-1819.6 785.1,-1823 785.1,-1838.6 785.2,-1857.6 785.2,-1876.6 785.3,-1895.6 785.3,-1914.6 785.3,-1933.5 785.3,-1952.5 785.3,-1971.5 785.2,-1990.5 785.2,-2009.5 785.2,-2028.5 785.1,-2047.5 785.1,-2066.5 785,-2085.5 785,-2104.5 785,-2123.5 784.9,-2142.5 784.9,-2161.5 784.9,-2180.5 784.9,-2199.5 784.9,-2218.5 784.9,-2237.5 784.9,-2256.5 784.9,-2275.5 785,-2294.5 785,-2313.5 785.1,-2324.5 785.1,-2332.5 785.4,-2351.5 785.7,-2370.5 786,-2389.5 786.2,-2408.4 786.2,-2416.7 786.3,-2427.4 786.3,-2446.4 786.3,-2465.4 786.3,-2484.4 786.3,-2491.7 786.3,-2503.4 786.4,-2522.4 786.4,-2541.4 786.5,-2560.4 786.5,-2579.4 786.6,-2598.4 786.7,-2613.3 786.7,-2617.6 786.8,-2641.1 786.9,-2665.9 787,-2685.7 787.1,-2694.4 787.2,-2687.3 787.3,-2668.3 787.3,-2643.7 787.4,-2619.8 787.5,-2613.3 787.5,-2600.4 787.6,-2581.4 787.7,-2562.4 787.7,-2543.4 787.7,-2524.4 787.8,-2505.4 787.8,-2491.7 787.8,-2486.4 787.8,-2467.4 787.9,-2448.4 787.9,-2429.4 787.9,-2416.7 787.9,-2410.4 788,-2391.4 788.2,-2372.4 788.4,-2353.4 788.6,-2334.4 788.6,-2324.5 788.7,-2315.4 788.7,-2296.4 788.7,-2277.4 788.8,-2258.4 788.8,-2239.5 788.8,-2220.5 788.8,-2201.5 788.8,-2182.5 788.7,-2163.5 788.7,-2144.5 788.7,-2125.5 788.7,-2106.5 788.7,-2087.5 788.6,-2068.5 788.6,-2049.5 788.6,-2030.5 788.6,-2011.5 788.5,-1992.5 788.5,-1973.5 788.5,-1954.5 788.5,-1935.5 788.5,-1916.5 788.5,-1897.5 788.5,-1878.5 788.6,-1859.5 788.6,-1840.5 788.6,-1823 788.6,-1821.5 788.7,-1802.5 788.8,-1783.5 788.9,-1764.5 789,-1745.5 789,-1726.5 789.1,-1707.5 789.2,-1688.5 789.3,-1669.5 789.4,-1650.5 789.4,-1631.5 789.5,-1612.6 789.5,-1610.2 789.5,-1593.6 789.5,-1574.6 789.5,-1555.6 789.5,-1536.6 789.5,-1517.6 789.5,-1498.6 789.5,-1479.6 789.6,-1460.6 789.6,-1441.6 789.6,-1437.9 789.6,-1422.6 789.6,-1403.6 789.6,-1384.6 789.6,-1365.6 789.6,-1346.6 789.6,-1327.6 789.6,-1308.6 789.6,-1289.6 789.7,-1270.6 789.7,-1251.6 789.7,-1232.6 789.7,-1213.6 789.7,-1194.6 789.7,-1175.6 789.7,-1156.6 789.7,-1137.6 789.7,-1118.6 789.8,-1099.6 789.8,-1080.6 789.8,-1061.6 789.8,-1042.6 789.8,-1023.6 789.8,-1004.6 789.8,-985.6 789.8,-966.6 789.8,-947.7 789.9,-928.7 789.9,-914.1 789.9,-909.7 789.9,-890.7 789.9,-871.7 790,-852.7 790,-833.7 790.1,-814.7 790.2,-795.7 790.3,-776.7 790.3,-757.7 790.4,-738.7 790.5,-719.7 790.6,-700.7 790.6,-681.7 790.7,-662.7 790.7,-654.7 790.7,-643.7 790.7,-624.7 790.8,-605.7 790.8,-586.7 790.8,-567.7 790.8,-548.7 790.9,-529.7 790.9,-510.7 790.9,-491.7 791,-472.7 791,-453.7 791.1,-434.7 791.1,-415.7 791.2,-396.7 791.3,-378.1 791.4,-358.8 791.6,-339.8 791.8,-320.8 792,-301.8 792.3,-282.8 792.5,-263.8 792.8,-244.8 793,-225.8 793.3,-206.8 793.4,-187.8 793.4,-184.6 793.6,-168.8 793.7,-149.8 793.8,-130.9 793.9,-111.9 794,-92.9 794.1,-73.9 794.1,-54.9 794.2,-38.6 794.2,-35.9 794.2,-16.9 794.2,2.1 794.3,21.1 794.3,40.1 794.3,41.4 794.4,59.1 794.5,78.1 794.6,90 794.7,97.1 794.8,116.1 795,130 795.1,135.1 795.3,154.1 795.7,173.1 796,183 796.4,192 797.3,210.9 798.1,226 798.3,229.7 799,248.7 799.6,263.5 799.8,267.6 801,286.4 801.3,290 802.6,305 803.6,316 804.3,323.7 805.8,341.8 808.3,360.4 809.5,366.7 812,377.6 816.6,392 817,393 823.1,405.8 827.3,412.3 830.3,416.3 837.9,423.9 839.9,425 846.2,427.7 854.5,429.7 857.7,430.1 862.9,430.5 871.3,430.8 875.4,430.6 879.7,430.1 888.1,429.2 890,429 896.5,428.4 903.2,427.9 904.9,427.8 913.3,427.4 921.7,427.4 930.1,427.6 934,427.9 938.5,428.3 946.8,429.4 953.3,430.2 955.2,430.4 963.6,431.1 972,431.6 972.6,431.6 980.4,431.1 988,429.7 988.8,429.5 997.1,427.6 1003.5,425.4 1005.4,424.6 1013.7,421 1018.9,418.7 1021.9,417.4 1030.2,413.7 1034.3,411.9 1038.4,410.2 1046.7,407.1 1049.8,406.1 1055,404.6 1063.4,403.4 1069.1,403.8 1071.8,404.3 1080.2,406 1084.5,407.1 1088.5,408.1 1096.9,410.2 1101.9,411.5 1105.2,412.3 1113.5,414.4 1119.3,415.8 1121.9,416.4 1130.3,418.3 1138.6,420 1147,421.6 1155.3,423.1 1157.9,423.5 1163.7,424.4 1169.5,424.8 1172.1,424.7 1180.5,423.8 1183,423.5 1188.9,422.6 1196.5,421.5 1197.3,421.4 1205.7,421.1 1208,421.2 1214,421.8 1219.6,423.1 1222.4,424 1230.6,427.6 1235.1,430.2 1238.7,432.6 1246.8,438.1 1248.6,439.3 1254.9,443.4 1257.8,445.1 1262.9,443 1265.9,439.9 1270.8,434.9 1273.6,431.2 1277.9,424.8 1284.7,413.8 1285.2,412.9 1291.4,402.2 1296.8,392.6 1298,390.5 1304.5,378.5 1308.4,371.4 1311,366.6 1317.6,354.7 1320,350.2 1324.1,342.7 1330.6,330.6 1331.5,328.9 1337.3,319.3"/>
</g>
<text transform="translate(636.5,458.3) scale(1.000,1)" text-anchor="end" font-size="31.0" letter-spacing="2.30">1</text>
<text transform="translate(636.5,357.0) scale(1.000,1)" text-anchor="end" font-size="31.0" letter-spacing="2.30">2</text>
<text transform="translate(636.5,255.6) scale(1.000,1)" text-anchor="end" font-size="31.0" letter-spacing="2.30">3</text>
<text transform="translate(636.5,154.3) scale(1.000,1)" text-anchor="end" font-size="31.0" letter-spacing="2.30">4</text>
<text transform="translate(636.5,53.0) scale(1.000,1)" text-anchor="end" font-size="31.0" letter-spacing="2.30">5</text>
<text transform="translate(665.3,506.2) scale(1.000,1)" text-anchor="middle" font-size="31.0" letter-spacing="2.30">2</text>
<text transform="translate(739.9,506.2) scale(1.000,1)" text-anchor="middle" font-size="31.0" letter-spacing="2.30">4</text>
<text transform="translate(814.6,506.2) scale(1.000,1)" text-anchor="middle" font-size="31.0" letter-spacing="2.30">6</text>
<text transform="translate(889.2,506.2) scale(1.000,1)" text-anchor="middle" font-size="31.0" letter-spacing="2.30">8</text>
<text transform="translate(963.8,506.2) scale(1.000,1)" text-anchor="middle" font-size="31.0" letter-spacing="2.30">10</text>
<text transform="translate(1038.5,506.2) scale(1.000,1)" text-anchor="middle" font-size="31.0" letter-spacing="2.30">12</text>
<text transform="translate(1113.1,506.2) scale(1.000,1)" text-anchor="middle" font-size="31.0" letter-spacing="2.30">14</text>
<text transform="translate(1187.7,506.2) scale(1.000,1)" text-anchor="middle" font-size="31.0" letter-spacing="2.30">16</text>
<text transform="translate(1262.4,506.2) scale(1.000,1)" text-anchor="middle" font-size="31.0" letter-spacing="2.30">18</text>
<text transform="translate(1337.0,506.2) scale(1.000,1)" text-anchor="middle" font-size="31.0" letter-spacing="2.30">20</text>
<text transform="translate(1001.6,551.0) scale(1.000,1)" text-anchor="middle" font-size="30.0" letter-spacing="2.64">Frequency (GHz)</text>
<text transform="translate(607.0,243.5) rotate(-90) scale(1.000,1)" text-anchor="middle" font-size="32.0" letter-spacing="0.00">VSWR</text>
<rect x="987.6" y="43.0" width="350.7" height="160.2" fill="#fff" stroke="#a0a0a0" stroke-width="1"/>
<line x1="1005.3" y1="65.6" x2="1050.6" y2="65.6" stroke="#000000" stroke-width="3.3"/>
<text transform="translate(1058.5,76.7) scale(1.070,1)" text-anchor="start" font-size="29.5" letter-spacing="2.23">Partial UWB</text>
<line x1="1005.3" y1="104.5" x2="1050.6" y2="104.5" stroke="#99cc00" stroke-width="3.3"/>
<text transform="translate(1058.5,115.6) scale(1.070,1)" text-anchor="start" font-size="29.5" letter-spacing="2.00">Extended UWB</text>
<line x1="1005.3" y1="143.4" x2="1050.6" y2="143.4" stroke="#ff0000" stroke-width="3.3"/>
<text transform="translate(1058.5,154.5) scale(1.070,1)" text-anchor="start" font-size="29.5" letter-spacing="2.24">WiMAX/C Notch</text>
<line x1="1005.3" y1="182.3" x2="1050.6" y2="182.3" stroke="#0000ff" stroke-width="3.3"/>
<text transform="translate(1058.5,193.4) scale(1.070,1)" text-anchor="start" font-size="29.5" letter-spacing="2.24">WLAN Notch</text>
</svg></body></html>
